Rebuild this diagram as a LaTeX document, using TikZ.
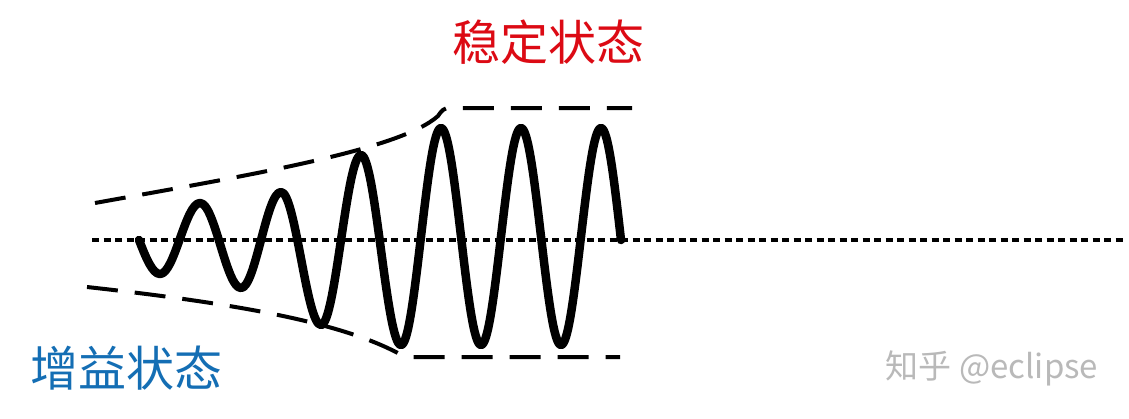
\documentclass[tikz,border=0pt]{standalone}
\usepackage{fontspec}
\newfontfamily\cjk{Noto Sans CJK SC}
\usetikzlibrary{calc}
\definecolor{stablered}{RGB}{220,10,20}
\definecolor{gainblue}{RGB}{20,110,180}
\definecolor{wmgray}{RGB}{185,185,185}
\tikzset{
  axisline/.style={line width=4pt, dash pattern=on 7pt off 4.5pt},
  envline/.style={line width=4pt, dash pattern=on 31pt off 17pt},
  waveline/.style={line width=8.5pt, line cap=round, line join=round},
  lbl/.style={inner sep=0pt, font=\cjk\fontsize{48}{50}\selectfont}
}
\begin{document}
\begin{tikzpicture}[x=1pt,y=-1pt]
\useasboundingbox[fill=white] (0,0) rectangle (1129,418);
% axis
\coordinate (axL) at (92,240);
\coordinate (axR) at (1125,240);
\draw[axisline] (axL) -- (axR);
% envelopes
\draw[envline] (95,203) .. controls (250,175) and (400,150) .. (438,116)
  .. controls (442,110) and (444,108) .. (450,108) -- (632,108);
\draw[envline] (87,287) .. controls (250,305) and (350,325) .. (405,357) -- (620,357);
% wave
\draw[waveline] (139,240) sin (160,274) cos (180,238.5) sin (200,203)
  cos (220.5,245.5) sin (241,288) cos (261,240) sin (281,192)
  cos (301,258.5) sin (321,325) cos (341,240) sin (361,155)
  cos (381,250) sin (401,345) cos (421,236.5) sin (441,128)
  cos (461,236.5) sin (481,345) cos (501,236.5) sin (521,128)
  cos (541,236.5) sin (561,345) cos (581,236.5) sin (601,128)
  cos (621,240);
% labels
\node[lbl, text=stablered] (stable) at (548,42) {稳定状态};
\node[lbl, text=gainblue] (gain) at (126,368) {增益状态};
\node[inner sep=0pt, text=wmgray, font=\cjk\fontsize{33}{35}\selectfont] (wm) at (992,368) {知乎 @eclipse};
\end{tikzpicture}
\end{document}
